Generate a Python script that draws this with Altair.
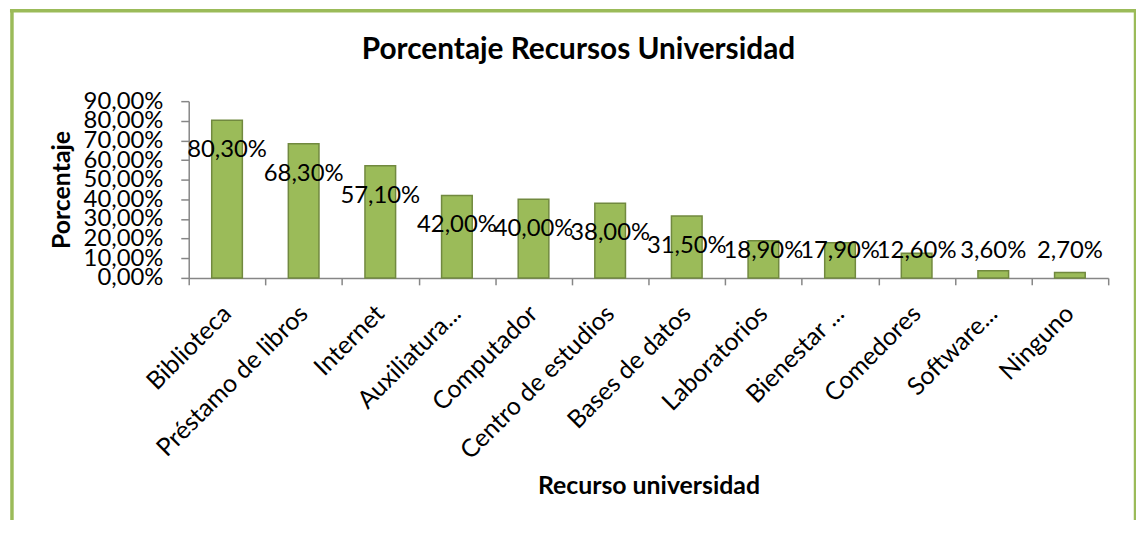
import altair as alt
import pandas as pd

categories = ["Biblioteca", "Préstamo de libros", "Internet", "Auxiliatura...",
              "Computador", "Centro de estudios", "Bases de datos", "Laboratorios",
              "Bienestar ...", "Comedores", "Software...", "Ninguno"]
values = [80.3, 68.3, 57.1, 42.0, 40.0, 38.0, 31.5, 18.9, 17.9, 12.6, 3.6, 2.7]
y_ticks = [0, 10, 20, 30, 40, 50, 60, 70, 80, 90]
chart_title = "Porcentaje Recursos Universidad"
x_title = "Recurso universidad"
y_title = "Porcentaje"

df = pd.DataFrame({"Recurso": categories, "Porcentaje": values})

W, H = 926, 178
FONT = "Lato"
GREEN = "#9BBB59"
EDGE = "#71893F"
AXIS = "#868686"

x_scale = alt.Scale(paddingInner=0, paddingOuter=0)
x_axis = alt.Axis(
    title=x_title, titleFont=FONT, titleFontSize=25, titleFontWeight="bold",
    titleColor="black", titleX=W / 2, titleY=217, titleAlign="center",
    titleBaseline="alphabetic",
    labelAngle=-45, labelAlign="right", labelBaseline="top",
    labelFont=FONT, labelFontSize=25, labelColor="black",
    labelPadding=16, labelOffset=-9, labelOverlap=False, labelLimit=400,
    tickBand="extent", tickSize=7, tickColor=AXIS, tickWidth=1.5,
    domainColor=AXIS, domainWidth=1.5,
)
y_scale = alt.Scale(domain=[0, 90], nice=False)
y_axis = alt.Axis(
    values=y_ticks, title=y_title, titleFont=FONT, titleFontSize=25,
    titleFontWeight="bold", titleColor="black", titleX=-120.5, titleY=H / 2,
    titleAlign="center", titleBaseline="alphabetic", titleAngle=-90,
    labelExpr="replace(format(datum.value, '.2f'), '.', ',') + '%'",
    labelFont=FONT, labelFontSize=24, labelColor="black",
    labelOverlap=False, labelFlush=False,
    labelPadding=18, tickSize=8, tickColor=AXIS, tickWidth=1.5,
    domainColor=AXIS, domainWidth=1.5, grid=False,
)

bars = alt.Chart(df).mark_bar(
    width=alt.RelativeBandSize(0.4), color=GREEN, stroke=EDGE, strokeWidth=1.5
).encode(
    x=alt.X("Recurso:N", sort=categories, scale=x_scale, axis=x_axis),
    y=alt.Y("Porcentaje:Q", scale=y_scale, axis=y_axis),
)

labels = alt.Chart(df).transform_calculate(
    pos="max(datum.Porcentaje - 15.2, 13.7)",
    txt="replace(format(datum.Porcentaje, '.2f'), '.', ',') + '%'",
).mark_text(font=FONT, fontSize=24, color="black", baseline="middle").encode(
    x=alt.X("Recurso:N", sort=categories, scale=x_scale, axis=x_axis),
    y=alt.Y("pos:Q", scale=y_scale, axis=y_axis),
    text="txt:N",
)

one = pd.DataFrame({"t": [chart_title]})
title = alt.Chart(one).mark_text(
    font=FONT, fontSize=30, fontWeight="bold", color="black",
    align="center", baseline="alphabetic"
).encode(text="t:N", x=alt.value(392.5), y=alt.value(-42.7))

border_left = alt.Chart(one).mark_rule(color=GREEN, strokeWidth=3.5).encode(
    x=alt.value(-178), y=alt.value(-92), y2=alt.value(430))
border_top = alt.Chart(one).mark_rule(color=GREEN, strokeWidth=3.5).encode(
    x=alt.value(-180), x2=alt.value(954), y=alt.value(-91))
border_right = alt.Chart(one).mark_rule(color=GREEN, strokeWidth=2.5).encode(
    x=alt.value(953), y=alt.value(-92), y2=alt.value(430))

chart = alt.layer(
    border_left, border_top, border_right, title, bars, labels
).properties(
    width=W, height=H,
    padding={"left": 182, "top": 92, "right": 28, "bottom": 242},
    autosize=alt.AutoSizeParams(type="none"),
).configure_view(stroke=None)

chart.save("out.html", embed_options={"renderer": "svg", "actions": False})
